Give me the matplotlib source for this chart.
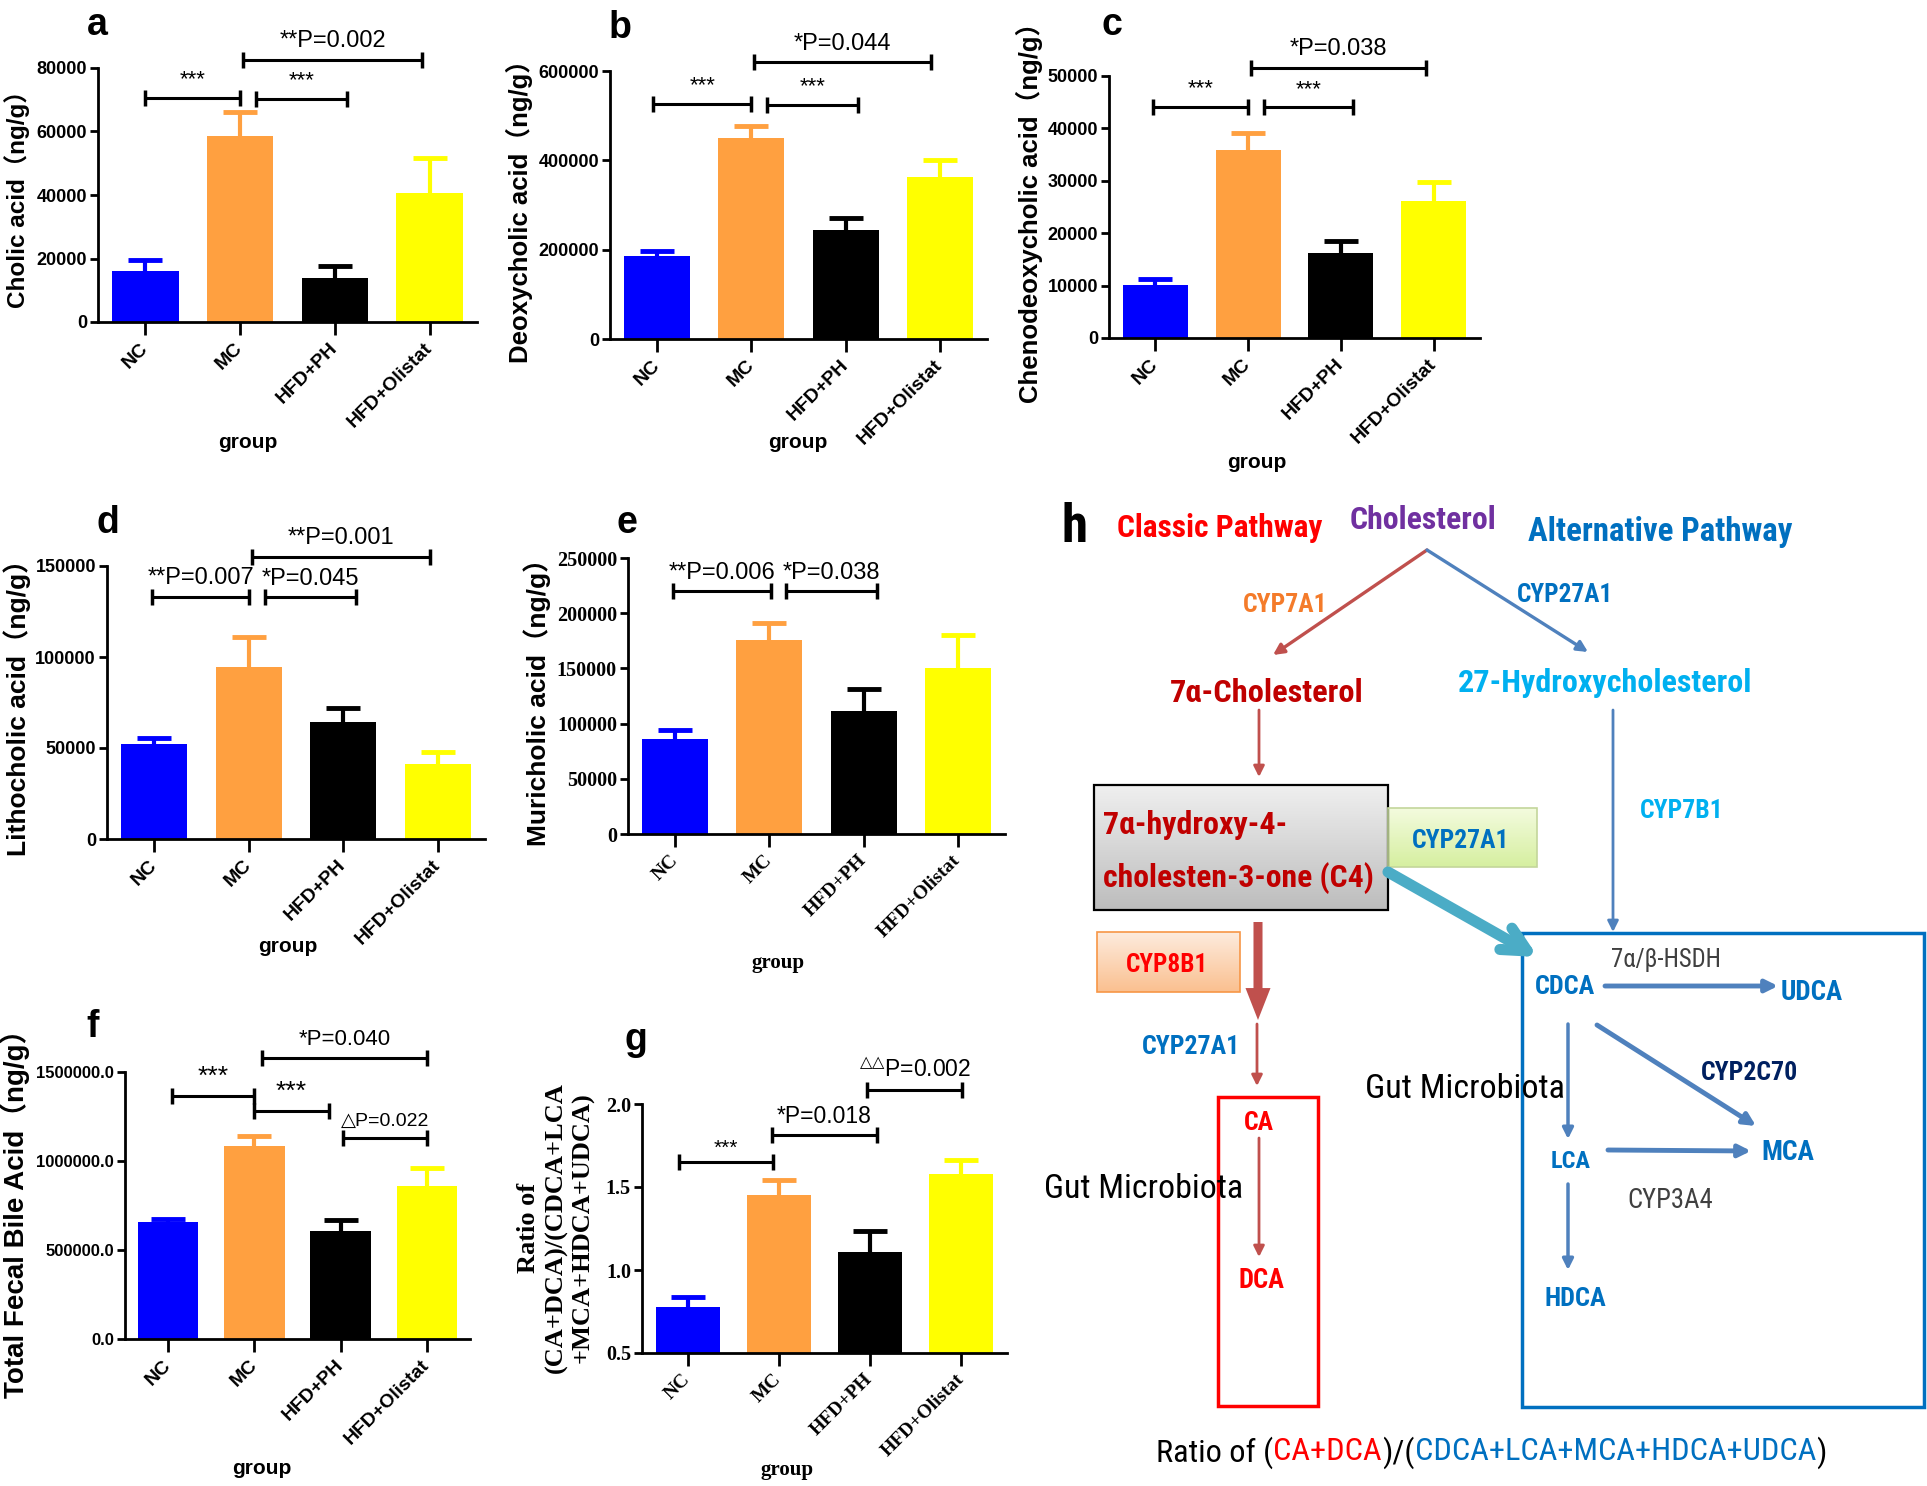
import matplotlib
matplotlib.use('Agg')
import matplotlib.pyplot as plt
import numpy as np
from matplotlib import font_manager
from matplotlib.colors import LinearSegmentedColormap
from matplotlib.patches import Rectangle

W, H = 1927, 1486
plt.rcParams['font.family'] = ['Liberation Sans', 'DejaVu Sans', 'Noto Sans CJK SC']

# ## data
groups = ['NC', 'MC', 'HFD+PH', 'HFD+Olistat']
bar_colors = ['#0000FF', '#FFA040', '#000000', '#FFFF00']

ca_mean = [16000, 58500, 14000, 40500]
ca_top = [19500, 66000, 17500, 51500]
dca_mean = [185000, 450000, 245000, 362000]
dca_top = [197000, 477000, 270000, 400000]
cdca_mean = [10200, 35900, 16300, 26100]
cdca_top = [11300, 39100, 18600, 29800]
lca_mean = [52200, 94700, 64100, 41200]
lca_top = [55700, 111200, 71800, 47600]
mca_mean = [85900, 176000, 111200, 150200]
mca_top = [94300, 191000, 131200, 179900]
tba_mean = [655000, 1082000, 607000, 858000]
tba_top = [676000, 1142000, 669000, 961000]
ratio_mean = [0.78, 1.45, 1.11, 1.58]
ratio_top = [0.835, 1.544, 1.233, 1.665]

# brackets: (from, to, height, label, fontsize)
br_a = [(0.0, 1.0, 70500, '***', 16), (1.17, 2.13, 70200, '***', 16),
        (1.03, 2.92, 82600, '**P=0.002', 17)]
br_b = [(-0.04, 1.0, 527000, '***', 16), (1.17, 2.13, 525000, '***', 16),
        (1.03, 2.91, 620000, '*P=0.044', 17)]
br_c = [(-0.03, 1.0, 44100, '***', 16), (1.17, 2.13, 44000, '***', 16),
        (1.03, 2.92, 51600, '*P=0.038', 17)]
br_d = [(-0.02, 1.0, 133200, '**P=0.007', 17), (1.17, 2.13, 132800, '*P=0.045', 17),
        (1.03, 2.92, 155100, '**P=0.001', 17)]
br_e = [(-0.02, 1.02, 219800, '**P=0.006', 17), (1.18, 2.14, 219800, '*P=0.038', 17)]
br_f = [(0.05, 1.0, 1363000, '***', 19), (1.0, 1.86, 1279000, '***', 19),
        (2.03, 3.0, 1129000, '△P=0.022', 14), (1.09, 3.0, 1579000, '*P=0.040', 16)]
br_g = [(-0.1, 0.94, 1.649, '***', 15), (0.92, 2.07, 1.813, '*P=0.018', 16.5),
        (1.97, 3.01, 2.086, '$^{△△}$P=0.002', 16.5)]

panels = [
    dict(letter='a', rect=(98, 477, 68, 322), mean=ca_mean, top=ca_top, ylim=(0, 80000),
         yticks=[0, 20000, 40000, 60000, 80000], fmt='{:.0f}', br=br_a, serif=False, ytfs=13,
         ylabel='Cholic acid（ng/g）', ylab=(17, 193), ylab_fs=17.5,
         group=(248, 443), let=(97, 35)),
    dict(letter='b', rect=(610, 987, 71, 339), mean=dca_mean, top=dca_top, ylim=(0, 600000),
         yticks=[0, 200000, 400000, 600000], fmt='{:.0f}', br=br_b, serif=False, ytfs=13,
         ylabel='Deoxycholic acid（ng/g）', ylab=(519, 205), ylab_fs=18.5,
         group=(798, 442), let=(620, 38)),
    dict(letter='c', rect=(1109, 1480, 76, 338), mean=cdca_mean, top=cdca_top, ylim=(0, 50000),
         yticks=[0, 10000, 20000, 30000, 40000, 50000], fmt='{:.0f}', br=br_c, serif=False,
         ytfs=13, ylabel='Chenodeoxycholic acid（ng/g）', ylab=(1029, 206), ylab_fs=18.5,
         group=(1257, 463), let=(1112, 35)),
    dict(letter='d', rect=(107, 485, 566, 839), mean=lca_mean, top=lca_top, ylim=(0, 150000),
         yticks=[0, 50000, 100000, 150000], fmt='{:.0f}', br=br_d, serif=False, ytfs=13,
         ylabel='Lithocholic acid（ng/g）', ylab=(17, 701), ylab_fs=19,
         group=(288, 947), let=(108, 533)),
    dict(letter='e', rect=(628, 1005, 558, 834), mean=mca_mean, top=mca_top, ylim=(0, 250000),
         yticks=[0, 50000, 100000, 150000, 200000, 250000], fmt='{:.0f}', br=br_e, serif=True,
         ytfs=14.5, ylabel='Muricholic acid（ng/g）', ylab=(537, 696), ylab_fs=19,
         group=(778, 963), let=(627, 533)),
    dict(letter='f', rect=(125, 470, 1072, 1339), mean=tba_mean, top=tba_top, ylim=(0, 1500000),
         yticks=[0, 500000, 1000000, 1500000], fmt='{:.1f}', br=br_f, serif=False, ytfs=12,
         ylabel='Total Fecal Bile Acid（ng/g）', ylab=(15, 1207), ylab_fs=20,
         group=(262, 1468), let=(93, 1037)),
    dict(letter='g', rect=(642, 1007, 1104, 1353), mean=ratio_mean, top=ratio_top, ylim=(0.5, 2.0),
         yticks=[0.5, 1.0, 1.5, 2.0], fmt='{:.1f}', br=br_g, serif=True, ytfs=14.5,
         ylabel='Ratio of\n(CA+DCA)/(CDCA+LCA\n+MCA+HDCA+UDCA)', ylab=(556, 1228), ylab_fs=19,
         group=(787, 1470), let=(636, 1050)),
]

fig = plt.figure(figsize=(W / 100, H / 100), dpi=100, facecolor='white')
renderer = fig.canvas.get_renderer()


def fx(x):
    return x / W


def fy(y):
    return 1 - y / H


for p in panels:
    x0, x1, ytop, ybot = p['rect']
    ax = fig.add_axes([fx(x0), fy(ybot), (x1 - x0) / W, (ybot - ytop) / H])
    fam = ['Liberation Serif'] if p['serif'] else ['Liberation Sans']
    for i, (m, t, c) in enumerate(zip(p['mean'], p['top'], bar_colors)):
        ax.bar(i, m, width=0.7, color=c, zorder=2)
        _, caps, _ = ax.errorbar(i, m, yerr=[[0], [t - m]], fmt='none', ecolor=c,
                                 elinewidth=3, capsize=12, capthick=3.5, zorder=1)
        for cl in caps:
            if np.allclose(cl.get_ydata(), m):
                cl.set_visible(False)
    ax.set_xlim(-0.5, 3.5)
    ax.set_ylim(*p['ylim'])
    ax.set_yticks(p['yticks'])
    ax.set_yticklabels([p['fmt'].format(v) for v in p['yticks']],
                       fontsize=p['ytfs'], fontweight='bold', family=fam)
    ax.set_xticks(range(4))
    ax.set_xticklabels(groups, rotation=45, ha='right', va='center', rotation_mode='anchor',
                       fontsize=14, fontweight='bold', family=fam)
    ax.tick_params(axis='y', length=6, width=2, pad=2)
    ax.tick_params(axis='x', length=9, width=2, pad=8)
    ax.spines[['top', 'right']].set_visible(False)
    ax.spines[['left', 'bottom']].set_linewidth(2)
    ax.patch.set_alpha(0)

    for xa, xb, y, txt, fs in p['br']:
        ax.plot([xa, xb], [y, y], color='black', lw=2.2, clip_on=False, solid_capstyle='butt')
        ax.plot([xa, xb], [y, y], ls='none', marker='|', ms=12, mew=2.5, color='black',
                clip_on=False)
        off = 6 if (txt == '***' and p['serif']) else 9
        ax.annotate(txt, xy=((xa + xb) / 2, y), xytext=(0, off), textcoords='offset points',
                    ha='center', va='baseline', fontsize=fs, annotation_clip=False)

    lab_fam = ['Liberation Serif', 'Noto Sans CJK SC'] if p['letter'] == 'g' \
        else ['Liberation Sans', 'Noto Sans CJK SC']
    fig.text(fx(p['ylab'][0]), fy(p['ylab'][1]), p['ylabel'], rotation=90, ha='center',
             va='center', fontsize=p['ylab_fs'], fontweight='bold', family=lab_fam,
             linespacing=1.2, multialignment='center')
    fig.text(fx(p['group'][0]), fy(p['group'][1]), 'group', ha='center', va='center',
             fontsize=15, fontweight='bold', family=fam)
    fig.text(fx(p['let'][0]), fy(p['let'][1]), p['letter'], ha='center', va='baseline',
             fontsize=27, fontweight='bold')

# ## panel h: pathway diagram (pixel coordinates)
names = {f.name for f in font_manager.fontManager.ttflist}
narrow = None
for n in ['Liberation Sans Narrow', 'Roboto Condensed', 'Open Sans Condensed']:
    if n in names:
        narrow = n
        break
if narrow is None:
    dfont = dict(family=['DejaVu Sans'], stretch='condensed')
else:
    dfont = dict(family=[narrow, 'DejaVu Sans'])

ov = fig.add_axes([0, 0, 1, 1])
ov.axis('off')


def fit(s, x, y, width, color, weight='bold', ha='center', **kw):
    t = ov.text(x, y, s, fontsize=20, color=color, fontweight=weight, ha=ha,
                va='center_baseline', **dfont, **kw)
    w = t.get_window_extent(renderer).width
    t.set_fontsize(20 * width / w)
    return t


def gradient_box(x0, y0, x1, y1, c_top, c_bot, edge, lw):
    cmap = LinearSegmentedColormap.from_list('g', [c_top, c_bot])
    ov.imshow(np.linspace(0, 1, 64).reshape(-1, 1), cmap=cmap, aspect='auto',
              extent=(x0, x1, y1, y0), zorder=1)
    ov.add_patch(Rectangle((x0, y0), x1 - x0, y1 - y0, fill=False, ec=edge, lw=lw, zorder=2))


def arrow(p0, p1, color, lw, style='-|>', ms=16, z=3):
    ov.annotate('', xy=p1, xytext=p0, zorder=z,
                arrowprops=dict(arrowstyle=style, color=color, lw=lw, mutation_scale=ms,
                                shrinkA=0, shrinkB=0))


gradient_box(1094, 785, 1388, 910, '#EFEFEF', '#BDBDBD', 'black', 1.6)
gradient_box(1388, 808, 1537, 867, '#F3FBDE', '#D6EFA0', '#C3D69B', 1.2)
gradient_box(1097, 932, 1240, 992, '#FDEBDD', '#FAC090', '#F79646', 1.2)
ov.add_patch(Rectangle((1218, 1097), 100, 309, fill=False, ec='#FF0000', lw=2.5, zorder=2))
ov.add_patch(Rectangle((1522, 933), 402, 474, fill=False, ec='#0070C0', lw=2.5, zorder=2))

red_a = '#C0504D'
blue_a = '#4F81BD'
arrow((1427, 550), (1273, 655), red_a, 2.4)
arrow((1427, 550), (1588, 652), blue_a, 2.4)
arrow((1259, 710), (1259, 777), red_a, 2.0)
arrow((1613, 710), (1613, 932), blue_a, 2.0)
arrow((1388, 872), (1538, 957), '#4BACC6', 8, style='->', ms=44)
arrow((1258, 922), (1258, 1020), red_a, 0,
      style='simple,head_length=2.3,head_width=1.8,tail_width=0.65', ms=10)
arrow((1257, 1024), (1257, 1086), red_a, 2.0)
arrow((1259, 1138), (1259, 1257), red_a, 2.0)
arrow((1605, 986), (1778, 986), blue_a, 3.5, ms=18)
arrow((1597, 1025), (1756, 1126), blue_a, 3.5, ms=18)
arrow((1568, 1024), (1568, 1139), blue_a, 2.5)
arrow((1608, 1150), (1751, 1151), blue_a, 3.5, ms=18)
arrow((1568, 1184), (1568, 1270), blue_a, 2.5)

ov.text(1074, 542, 'h', ha='center', va='baseline', fontsize=38, fontweight='bold',
        color='black', **dfont)
fit('Classic Pathway', 1220, 525, 206, '#FF0000')
fit('Cholesterol', 1423, 517, 147, '#7030A0')
fit('Alternative Pathway', 1660, 528, 264, '#0070C0')
fit('CYP7A1', 1285, 602, 84, '#F47B2A')
fit('CYP27A1', 1565, 593, 96, '#0070C0')
fit('7α-Cholesterol', 1267, 690, 193, '#C00000')
fit('27-Hydroxycholesterol', 1605, 680, 294, '#00B0F0')
fit('7α-hydroxy-4-', 1103, 822, 184, '#C00000', ha='left', zorder=4)
fit('cholesten-3-one (C4)', 1103, 875, 270, '#C00000', ha='left', zorder=4)
fit('CYP27A1', 1461, 838, 97, '#0070C0', zorder=4)
fit('CYP7B1', 1682, 808, 83, '#00B0F0')
fit('CYP8B1', 1167, 963, 82, '#FF0000', zorder=4)
fit('CYP27A1', 1191, 1045, 98, '#0070C0')
fit('CA', 1259, 1120, 30, '#FF0000')
fit('DCA', 1262, 1278, 46, '#FF0000')
fit('Gut Microbiota', 1144, 1185, 198, 'black', weight='normal', zorder=4)
fit('Gut Microbiota', 1465, 1086, 199, 'black', weight='normal', zorder=4)
fit('7α/β-HSDH', 1666, 958, 110, '#404040', weight='normal')
fit('CDCA', 1565, 985, 60, '#0070C0')
fit('UDCA', 1812, 990, 62, '#0070C0')
fit('CYP2C70', 1750, 1071, 97, '#002060', zorder=4,
    bbox=dict(fc='white', ec='none', pad=1))
fit('LCA', 1571, 1159, 40, '#0070C0')
fit('MCA', 1788, 1150, 53, '#0070C0')
fit('CYP3A4', 1670, 1197, 86, '#404040', weight='normal')
fit('HDCA', 1575, 1297, 62, '#0070C0')

# bottom ratio line with coloured parts
pieces = [('Ratio of (', 'black'), ('CA+DCA', '#FF0000'), (')/(', 'black'),
          ('CDCA+LCA+MCA+HDCA+UDCA', '#0070C0'), (')', 'black')]
texts = [ov.text(0, 1449, s, color=c, fontsize=20, va='center_baseline', ha='left', **dfont)
         for s, c in pieces]
widths = [t.get_window_extent(renderer).width for t in texts]
scale = 670 / sum(widths)
xpos = 1156
for t, w in zip(texts, widths):
    t.set_fontsize(20 * scale)
    t.set_x(xpos)
    xpos += w * scale

ov.set_xlim(0, W)
ov.set_ylim(H, 0)

fig.savefig('out.png', dpi=100, facecolor='white')
